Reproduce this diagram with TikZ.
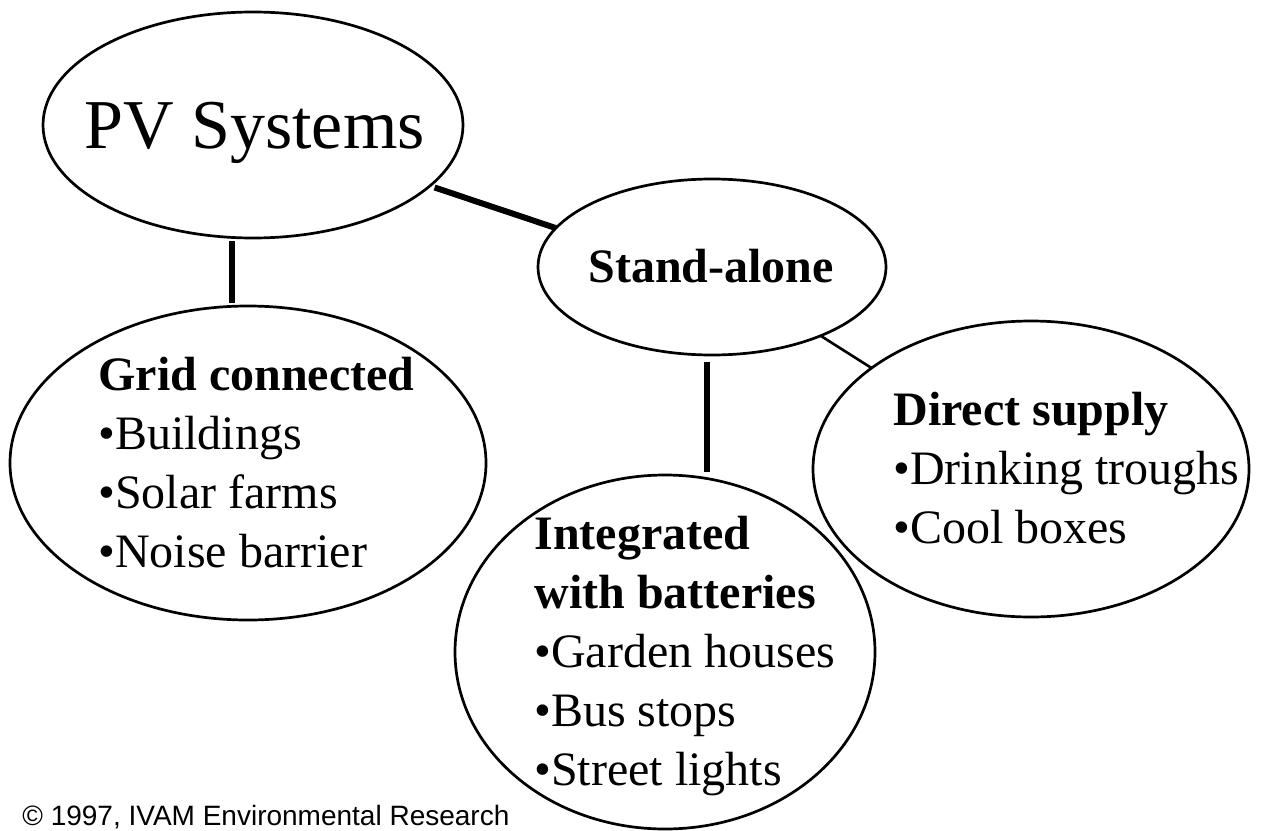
\documentclass[tikz,border=0pt]{standalone}
\usepackage{fontspec}
\setmainfont{Liberation Serif}
\newfontfamily\notefont{Liberation Sans}
\usetikzlibrary{shapes.geometric}
\tikzset{
  bubble/.style={ellipse, draw, line width=1.35pt, inner sep=0pt, outer sep=0pt},
  bar/.style={line width=3pt},
  wire/.style={line width=1.3pt},
  txt/.style={anchor=base west, inner sep=0pt, align=left, font=\fontsize{24}{29.5}\selectfont},
}

\begin{document}
\begin{tikzpicture}[x=0.5pt,y=-0.5pt]
            \useasboundingbox (0,0) rectangle (1263,830);
            % the five bubbles
            \node[bubble, minimum width=210pt, minimum height=113pt] (pv) at (253,125) {};
            \node[bubble, minimum width=174pt, minimum height=88pt] (sa) at (712,267) {};
            \node[bubble, minimum width=238pt, minimum height=157pt] (grid) at (248,463) {};
            \node[bubble, minimum width=210pt, minimum height=177pt] (integ) at (665,652) {};
            \node[bubble, minimum width=218pt, minimum height=148pt] (ds) at (1031,469) {};
            % texts (base = baseline of the last line)
            \node[txt, font=\fontsize{35}{40}\selectfont] (pvlabel) at (84,148) {PV Systems};
            \node[txt, font=\bfseries\fontsize{24}{29.5}\selectfont] (salabel) at (588,282) {Stand-alone};
            \node[txt] (gridlabel) at (98,567) {\textbf{Grid connected}\\•Buildings\\•Solar farms\\•Noise barrier};
            \node[txt] (integlabel) at (534,785) {\textbf{Integrated}\\\textbf{with batteries}\\•Garden houses\\•Bus stops\\•Street lights};
            \node[txt] (dslabel) at (893,543) {\textbf{Direct supply}\\•Drinking troughs\\•Cool boxes};
            \node[anchor=base west, inner sep=0pt, font=\notefont\fontsize{14}{16}\selectfont] (note) at (22,825) {© 1997, IVAM Environmental Research};
            % links
            \coordinate (gx) at (232,0);
            \coordinate (ix) at (707,0);
            \draw[bar, shorten <=1.5pt, shorten >=1.5pt] (pv.south -| gx) -- (grid.north -| gx);
            \draw[bar, shorten <=2.5pt] (pv.-19) -- (sa.166);
            \draw[bar, shorten <=3.5pt, shorten >=1.5pt] (sa.south -| ix) -- (integ.north -| ix);
            \draw[wire] (sa) -- (ds);
        \end{tikzpicture}
\end{document}
